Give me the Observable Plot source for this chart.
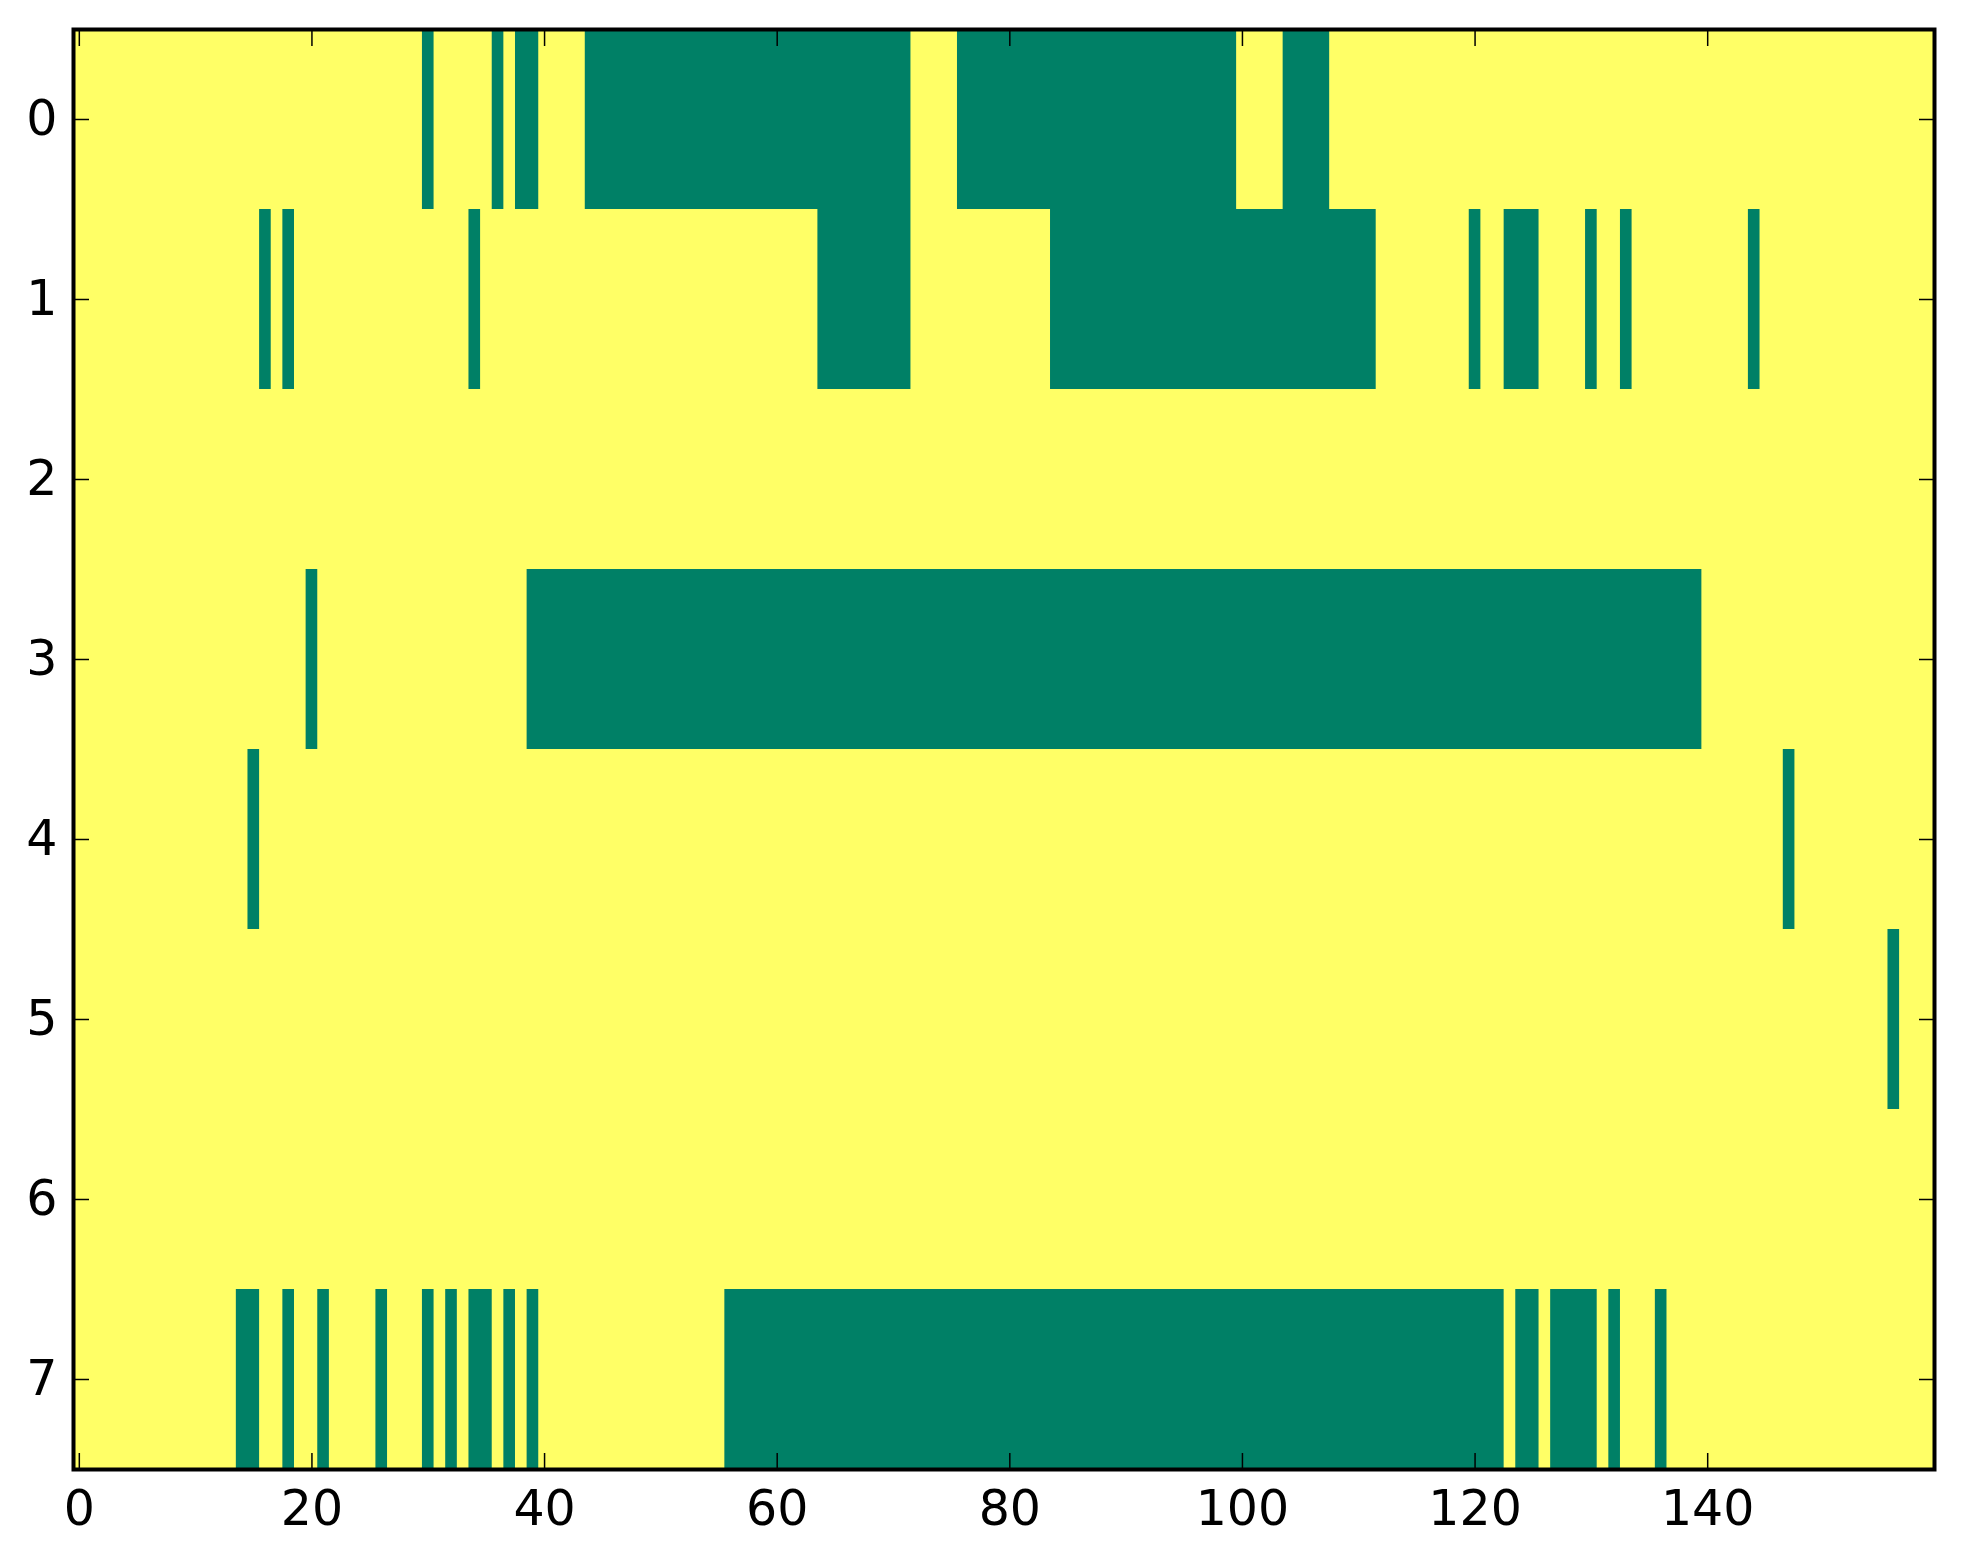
<!DOCTYPE html>
<html><head><meta charset="utf-8">
<script src="https://cdn.jsdelivr.net/npm/d3@7"></script>
<script src="https://cdn.jsdelivr.net/npm/@observablehq/plot@0.6"></script>
<style>html,body{margin:0;padding:0;background:#fff;}</style>
</head><body><div id="chart"></div>
<script>
const nCols = 160;
const yTicks = [0,1,2,3,4,5,6,7];
const xTicks = [0,20,40,60,80,100,120,140];
// green (value 0) runs per row, [first column, last column]
const row0 = [[30,30],[36,36],[38,39],[44,71],[76,99],[104,107]];
const row1 = [[16,16],[18,18],[34,34],[64,71],[84,111],[120,120],[123,125],[130,130],[133,133],[144,144]];
const row2 = [];
const row3 = [[20,20],[39,139]];
const row4 = [[15,15],[147,147]];
const row5 = [[156,156]];
const row6 = [];
const row7 = [[14,15],[18,18],[21,21],[26,26],[30,30],[32,32],[34,35],[37,37],[39,39],[56,122],[124,125],[127,130],[132,132],[136,136]];
const rows = [row0,row1,row2,row3,row4,row5,row6,row7];

const yellow = "#FFFF66", green = "#008066";
const cells = [];
rows.forEach((runs, r) => runs.forEach(([a, b]) => cells.push({row: r, start: a, end: b})));

const axisStyle = {strokeWidth: 1.5, fontSize: 49, label: null};
const chart = Plot.plot({
  width: 1963, height: 1564,
  marginLeft: 73, marginRight: 29, marginTop: 29, marginBottom: 95,
  style: {fontFamily: "DejaVu Sans", fontSize: "49px", color: "black", background: "white"},
  x: {domain: [-0.5, nCols - 0.5], label: null},
  y: {domain: [-0.5, rows.length - 0.5], reverse: true, label: null},
  marks: [
    Plot.frame({fill: yellow}),
    Plot.rect(cells, {x1: d => d.start - 0.5, x2: d => d.end + 0.5, y1: d => d.row - 0.5, y2: d => d.row + 0.5, fill: green}),
    Plot.axisX({...axisStyle, anchor: "bottom", ticks: xTicks, tickSize: -16, tickPadding: 37}),
    Plot.axisX({...axisStyle, anchor: "top", ticks: xTicks, tickSize: -16, text: null}),
    Plot.axisY({...axisStyle, anchor: "left", ticks: yTicks, tickSize: -16, tickPadding: 32}),
    Plot.axisY({...axisStyle, anchor: "right", ticks: yTicks, tickSize: -16, text: null}),
    Plot.frame({stroke: "black", strokeWidth: 4})
  ]
});
document.getElementById("chart").appendChild(chart);
</script>
</body></html>
